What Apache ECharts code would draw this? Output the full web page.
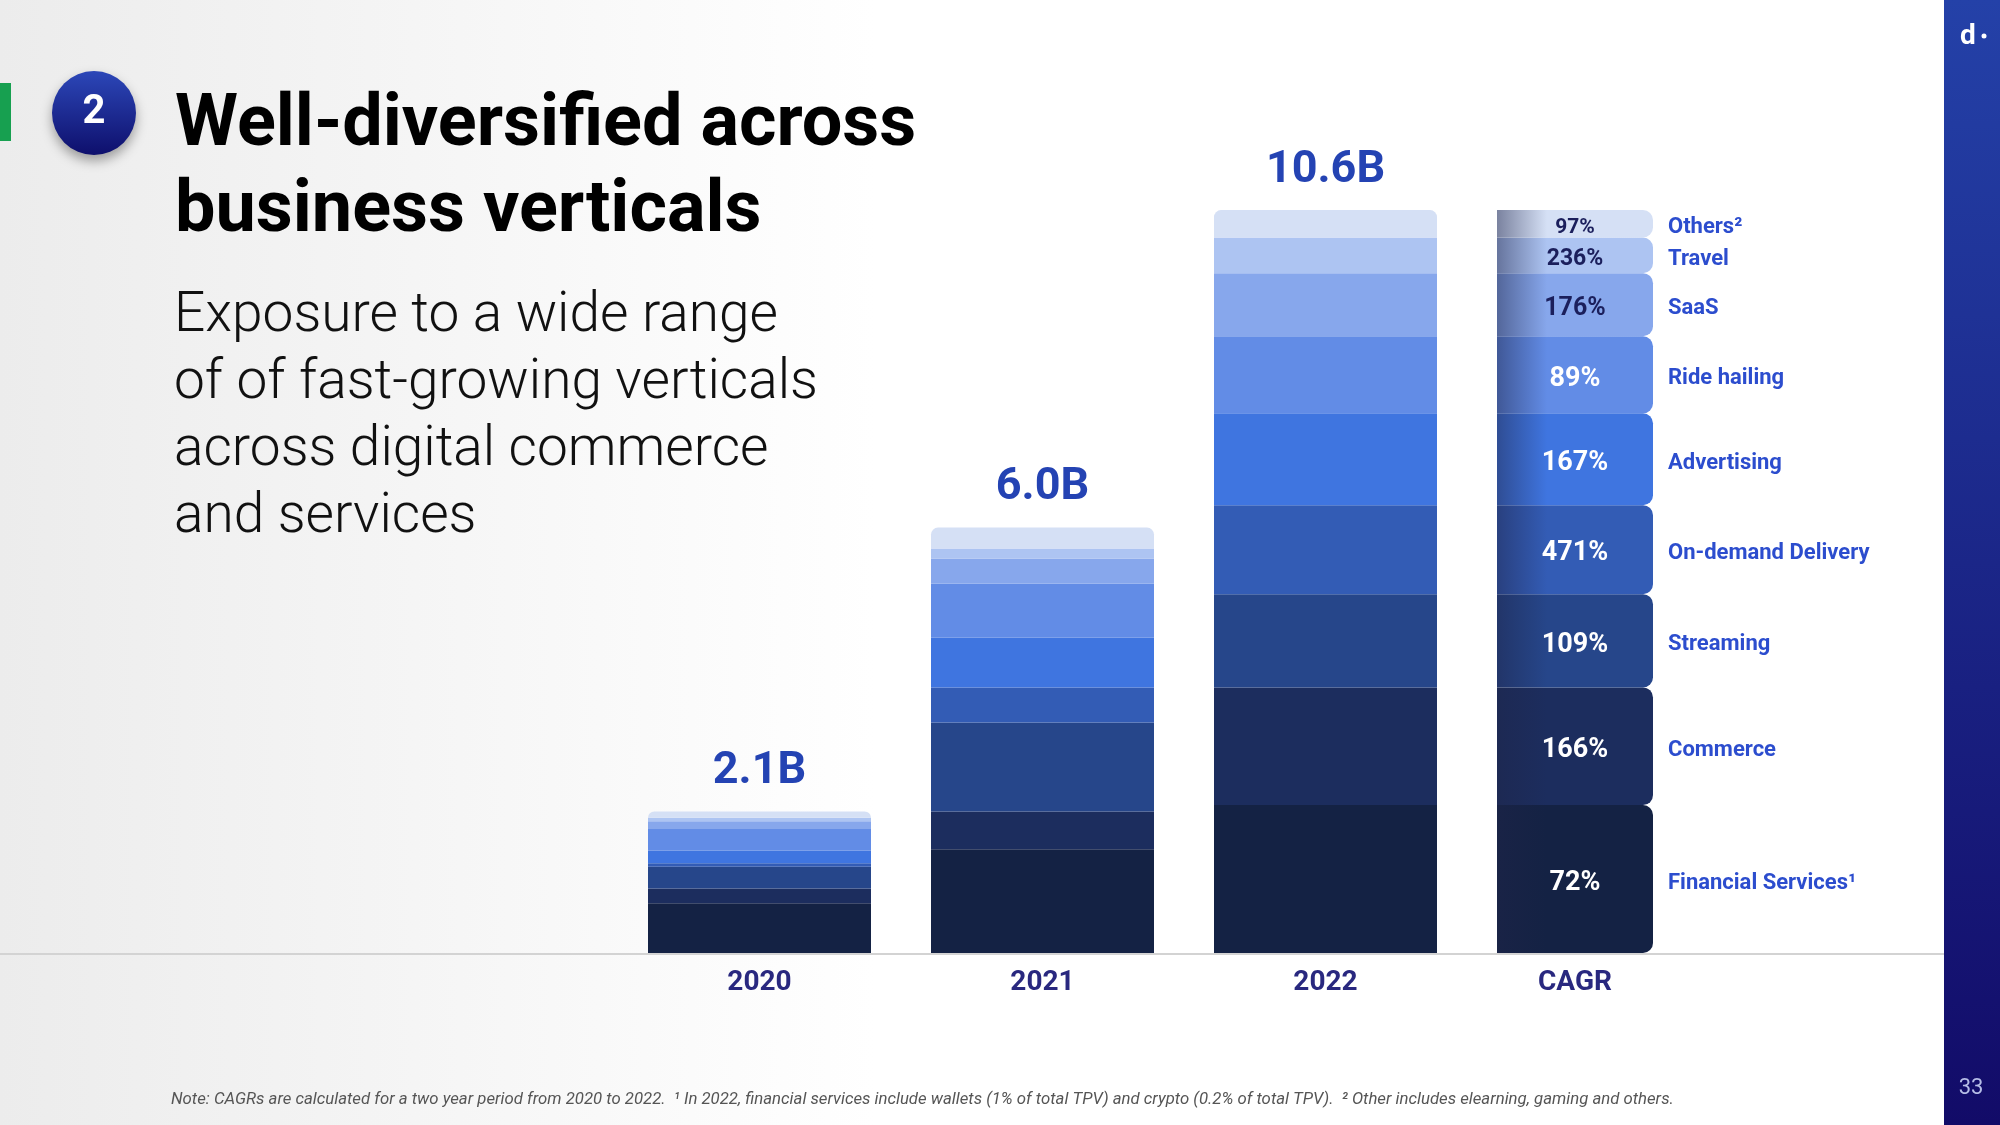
<!DOCTYPE html>
<html>
<head>
<meta charset="utf-8">
<script src="https://cdn.jsdelivr.net/npm/echarts@6/dist/echarts.min.js"></script>
<style>
html,body{margin:0;padding:0;background:#fff;}
#chart{width:2000px;height:1125px;}
</style>
</head>
<body>
<div id="chart"></div>
<script>
// ---- data (billions, stacked bottom -> top) ----
const categories = ['2020', '2021', '2022'];
const cagrCategory = ['CAGR'];
const verticals = ['Financial Services¹', 'Commerce', 'Streaming', 'On-demand Delivery', 'Advertising', 'Ride hailing', 'SaaS', 'Travel', 'Others²'];
const v2020 = [0.71, 0.21, 0.31, 0.05, 0.18, 0.31, 0.11, 0.05, 0.09];
const v2021 = [1.48, 0.54, 1.27, 0.50, 0.71, 0.77, 0.36, 0.14, 0.30];
const v2022 = [2.11, 1.68, 1.33, 1.27, 1.31, 1.10, 0.90, 0.51, 0.39];
const cagrLabels = ['72%', '166%', '109%', '471%', '167%', '89%', '176%', '236%', '97%'];
const totalLabels = ['2.1B', '6.0B', '10.6B'];

// ---- styling ----
const colors = ['#142244', '#1c2d5e', '#26468a', '#335cb5', '#3f75e0', '#628ce6', '#87a7ec', '#adc4f2', '#d5e0f5'];
const cagrTextColors = ['#fff', '#fff', '#fff', '#fff', '#fff', '#fff', '#1b1f5c', '#1b1f5c', '#1b1f5c'];
const cagrFontSizes = [27, 27, 27, 27, 27, 27, 25, 23, 21];
const FONT = 'Roboto';

function mix(a, b, t) {
  const pa = [1, 3, 5].map(i => parseInt(a.substr(i, 2), 16));
  const pb = [1, 3, 5].map(i => parseInt(b.substr(i, 2), 16));
  const r = pa.map((v, i) => Math.round(v * (1 - t) + pb[i] * t));
  return 'rgb(' + r.join(',') + ')';
}

const chart = echarts.init(document.getElementById('chart'));

const gridTop = 112, gridBottom = 172, yMax = 12;
const series = [];

verticals.forEach((name, i) => {
  const isTop = i === verticals.length - 1;
  series.push({
    name: name,
    type: 'bar',
    stack: 'years',
    xAxisIndex: 0,
    yAxisIndex: 0,
    barWidth: 223,
    data: [v2020[i], v2021[i], v2022[i]],
    itemStyle: { color: colors[i], borderRadius: isTop ? [7, 7, 0, 0] : 0 },
    label: isTop ? {
      show: true,
      position: 'top',
      distance: 17,
      formatter: p => totalLabels[p.dataIndex],
      fontFamily: FONT,
      fontWeight: 'bold',
      fontSize: 45,
      color: '#2443b3'
    } : { show: false },
    silent: true
  });
});

verticals.forEach((name, i) => {
  series.push({
    name: name + ' CAGR',
    type: 'bar',
    stack: 'cagr',
    xAxisIndex: 1,
    yAxisIndex: 1,
    barWidth: 156,
    barGap: '-100%',
    data: [v2022[i]],
    itemStyle: {
      color: {
        type: 'linear', x: 0, y: 0, x2: 1, y2: 0,
        colorStops: [
          { offset: 0, color: mix(colors[i], '#1e2448', 0.5) },
          { offset: 0.32, color: colors[i] },
          { offset: 1, color: colors[i] }
        ]
      },
      borderRadius: [0, 10, 10, 0]
    },
    label: {
      show: true,
      position: 'inside',
      offset: [0, 4],
      formatter: () => cagrLabels[i],
      fontFamily: FONT,
      fontWeight: 'bold',
      fontSize: cagrFontSizes[i],
      color: cagrTextColors[i]
    },
    silent: true
  });
});

verticals.forEach((name, i) => {
  series.push({
    name: name + ' label',
    type: 'bar',
    stack: 'names',
    xAxisIndex: 1,
    yAxisIndex: 1,
    barWidth: 156,
    barGap: '-100%',
    data: [v2022[i]],
    itemStyle: { color: 'rgba(0,0,0,0)' },
    label: {
      show: true,
      position: 'right',
      distance: 15,
      offset: [0, 4],
      formatter: () => name,
      fontFamily: FONT,
      fontWeight: 'bold',
      fontSize: 22,
      color: '#2c4dce'
    },
    silent: true
  });
});

const axisLabelStyle = { fontFamily: FONT, fontWeight: 'bold', fontSize: 28, color: '#29287f', margin: 16 };

const option = {
  animation: false,
  backgroundColor: '#ffffff',
  grid: [
    { left: 618, width: 849, top: gridTop, bottom: gridBottom },
    { left: 1497, width: 156, top: gridTop, bottom: gridBottom }
  ],
  xAxis: [
    { type: 'category', gridIndex: 0, data: categories, axisLine: { show: false }, axisTick: { show: false }, axisLabel: axisLabelStyle },
    { type: 'category', gridIndex: 1, data: cagrCategory, axisLine: { show: false }, axisTick: { show: false }, axisLabel: axisLabelStyle }
  ],
  yAxis: [
    { type: 'value', gridIndex: 0, min: 0, max: yMax, show: false, splitLine: { show: false } },
    { type: 'value', gridIndex: 1, min: 0, max: yMax, show: false, splitLine: { show: false } }
  ],
  graphic: [
    { type: 'rect', z: -10, silent: true, shape: { x: 0, y: 0, width: 1944, height: 1125 },
      style: { fill: { type: 'linear', x: 0, y: 0, x2: 1, y2: 0, colorStops: [{ offset: 0, color: '#ececec' }, { offset: 0.45, color: '#ffffff' }, { offset: 1, color: '#ffffff' }] } } },
    { type: 'line', z: 1, silent: true, shape: { x1: 0, y1: 954, x2: 1944, y2: 954 }, style: { stroke: '#d3d3d3', lineWidth: 2 } },
    { type: 'rect', z: 5, silent: true, shape: { x: 1944, y: 0, width: 56, height: 1125 },
      style: { fill: { type: 'linear', x: 0, y: 0, x2: 0, y2: 1, colorStops: [{ offset: 0, color: '#2441a8' }, { offset: 1, color: '#120b68' }] } } },
    { type: 'text', z: 6, silent: true, style: { x: 1960, y: 37, text: 'd', font: 'bold 28px ' + FONT, fill: '#ffffff', verticalAlign: 'middle' } },
    { type: 'circle', z: 6, silent: true, shape: { cx: 1984, cy: 36, r: 2.5 }, style: { fill: '#ffffff' } },
    { type: 'text', z: 6, silent: true, style: { x: 1971, y: 1088, text: '33', font: '22px ' + FONT, fill: '#b6bde6', align: 'center', verticalAlign: 'middle' } },
    { type: 'rect', z: 5, silent: true, shape: { x: 0, y: 83, width: 11, height: 58 }, style: { fill: '#17a050' } },
    { type: 'circle', z: 5, silent: true, shape: { cx: 94, cy: 113, r: 42 },
      style: { fill: { type: 'linear', x: 0, y: 0, x2: 0, y2: 1, colorStops: [{ offset: 0, color: '#2c47b8' }, { offset: 1, color: '#0e0f6c' }] },
        shadowBlur: 12, shadowOffsetY: 6, shadowColor: 'rgba(0,0,0,0.35)' } },
    { type: 'text', z: 6, silent: true, style: { x: 94, y: 113, text: '2', font: 'bold 40px ' + FONT, fill: '#ffffff', align: 'center', verticalAlign: 'middle' } },
    { type: 'text', z: 6, silent: true, style: { x: 175, y: 84, text: 'Well-diversified across\nbusiness verticals', font: 'bold 72px ' + FONT, lineHeight: 86, fill: '#000000', verticalAlign: 'top' } },
    { type: 'text', z: 6, silent: true, style: { x: 174, y: 284, text: 'Exposure to a wide range\nof of fast-growing verticals\nacross digital commerce\nand services', font: '300 55px ' + FONT, lineHeight: 67, fill: '#111111', verticalAlign: 'top' } },
    { type: 'text', z: 6, silent: true, style: { x: 171, y: 1100, text: 'Note: CAGRs are calculated for a two year period from 2020 to 2022.  ¹ In 2022, financial services include wallets (1% of total TPV) and crypto (0.2% of total TPV).  ² Other includes elearning, gaming and others.', font: 'italic 16.75px ' + FONT, fill: '#555555', verticalAlign: 'middle' } }
  ],
  series: series
};

chart.setOption(option);
</script>
</body>
</html>
